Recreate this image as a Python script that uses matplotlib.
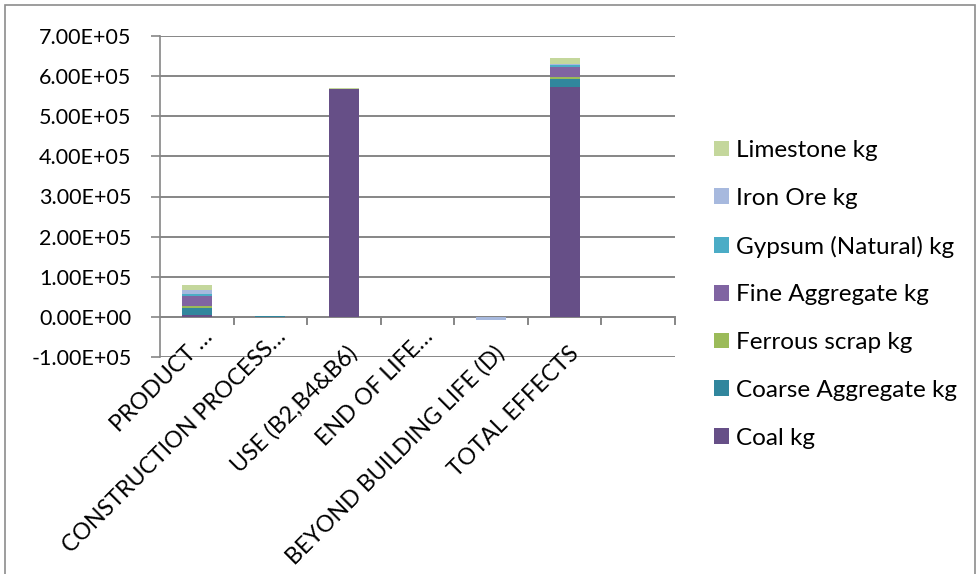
import matplotlib
matplotlib.use("Agg")
import matplotlib.pyplot as plt
import numpy as np
from matplotlib.patches import Rectangle

# Life-cycle stages (the last slot is an empty category)
categories = ["PRODUCT \u2026", "CONSTRUCTION PROCESS\u2026", "USE (B2,B4&B6)",
              "END OF LIFE\u2026", "BEYOND BUILDING LIFE (D)", "TOTAL EFFECTS", ""]

# Resource use per stage, kg
coal = [5.0e3, 500, 5.69e5, 0, 0, 5.74e5, 0]
coarse_aggregate = [1.8e4, 800, 0, 0, 0, 1.8e4, 0]
ferrous_scrap = [5.0e3, 0, 0, 0, 0, 5.0e3, 0]
fine_aggregate = [2.3e4, 800, 0, 0, 0, 2.6e4, 0]
gypsum_natural = [6.0e3, 0, 0, 0, 0, 5.0e3, 0]
iron_ore = [1.1e4, 0, 0, 0, -8.0e3, 3.0e3, 0]
limestone = [1.2e4, 0, 1.0e3, 0, 0, 1.3e4, 0]

series = [
    ("Coal kg", coal, "#664F87"),
    ("Coarse Aggregate kg", coarse_aggregate, "#31869D"),
    ("Ferrous scrap kg", ferrous_scrap, "#9BBB59"),
    ("Fine Aggregate kg", fine_aggregate, "#8064A2"),
    ("Gypsum (Natural) kg", gypsum_natural, "#4BACC6"),
    ("Iron Ore kg", iron_ore, "#A7B9DE"),
    ("Limestone kg", limestone, "#C4D79C"),
]

yticks = [-1e5, 0, 1e5, 2e5, 3e5, 4e5, 5e5, 6e5, 7e5]
ytick_labels = ["-1.00E+05", "0.00E+00", "1.00E+05", "2.00E+05", "3.00E+05",
                "4.00E+05", "5.00E+05", "6.00E+05", "7.00E+05"]

FONT = ["Lato", "DejaVu Sans"]
plt.rcParams["font.family"] = FONT
GRID = "#868686"

W, H = 979, 574
fig = plt.figure(figsize=(W / 100, H / 100), dpi=100)
fig.patch.set_facecolor("white")

# outer chart frame
fig.patches.append(Rectangle((5 / W, -0.05), 970 / W, 1.05 - 5 / H,
                             transform=fig.transFigure, fill=False,
                             edgecolor="#8C8C8C", linewidth=1.2))

ax = fig.add_axes([160 / W, (H - 357) / H, 515 / W, 321 / H])
x = np.arange(len(categories))
pos_bottom = np.zeros(len(categories))
neg_bottom = np.zeros(len(categories))
handles = []
for name, vals, color in series:
    v = np.array(vals, dtype=float)
    bottom = np.where(v >= 0, pos_bottom, neg_bottom)
    b = ax.bar(x, v, width=0.41, bottom=bottom, color=color, label=name,
               edgecolor="none", zorder=3)
    handles.append(b)
    pos_bottom += np.where(v >= 0, v, 0)
    neg_bottom += np.where(v < 0, v, 0)

ax.set_xlim(-0.5, len(categories) - 0.5)
ax.set_ylim(-1e5, 7e5)
ax.set_yticks(yticks)
ax.set_yticklabels(ytick_labels, fontsize=15.5)
ax.yaxis.grid(True, color=GRID, linewidth=1.4, zorder=0)
ax.set_axisbelow(True)
ax.tick_params(axis="y", direction="out", length=6.5, width=1.2,
               color=GRID, pad=14)

for s in ["top", "right", "bottom"]:
    ax.spines[s].set_visible(False)
ax.spines["left"].set_color(GRID)
ax.spines["left"].set_linewidth(1.2)

# horizontal axis line at zero with category boundary ticks
ax.axhline(0, color=GRID, linewidth=1.4, zorder=2)
ax.set_xticks([])
for b in np.arange(0.5, len(categories), 1.0):
    ax.plot([b, b], [0, -1.8e4], color=GRID, linewidth=1.4,
            zorder=2, clip_on=False)

# rotated category labels, anchored at the end of their baseline
for i, lab in enumerate(categories):
    if lab:
        if lab.endswith("\u2026"):
            dx, dy = 17, 19
        else:
            dx, dy = 15, 2
        ax.annotate(lab, xy=(i, -1e5), xytext=(dx, dy),
                    textcoords="offset pixels", rotation=45,
                    rotation_mode="anchor", ha="right", va="baseline",
                    fontsize=16.7, annotation_clip=False)

leg = fig.legend(handles[::-1], [s[0] for s in series][::-1],
                 loc="upper left", bbox_to_anchor=(714 / W, 1 - 140 / H),
                 frameon=False, fontsize=17.5, handlelength=0.62,
                 handleheight=0.62, handletextpad=0.3, labelspacing=1.1,
                 borderpad=0, borderaxespad=0)

fig.savefig("out.png", dpi=100)
